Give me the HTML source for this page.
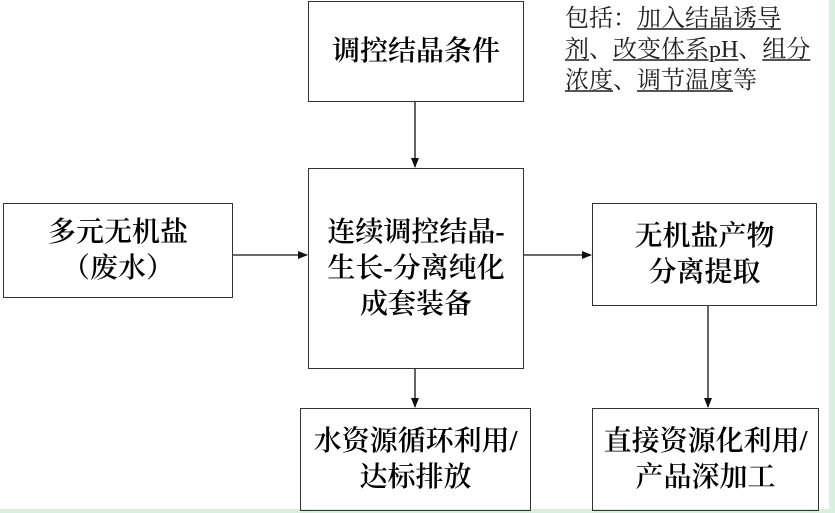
<!DOCTYPE html>
<html><head><meta charset="utf-8"><style>
body{margin:0;width:835px;height:513px;background:#d9f0dc;overflow:hidden;position:relative;font-family:"Liberation Serif","Noto Serif CJK SC",serif}
#c{position:absolute;left:0;top:0;width:829px;height:509px;background:#fff}
.b{position:absolute;border:1.5px solid #333;box-sizing:border-box;display:flex;align-items:center;justify-content:center;text-align:center;font-size:28px;line-height:36px;color:#000;font-weight:600}
.n{position:absolute;left:565px;top:4px;font-size:24px;line-height:31px;color:#222;width:265px}
.n u{text-decoration:underline;text-decoration-color:#555}
</style></head><body>
<div id="c"></div>
<div class="b" style="left:308px;top:1px;width:216px;height:101px">调控结晶条件</div>
<div class="b" style="left:308px;top:168px;width:216px;height:201px">连续调控结晶-<br>生长-分离纯化<br>成套装备</div>
<div class="b" style="left:3px;top:203px;width:230px;height:95px">多元无机盐<br>（废水）</div>
<div class="b" style="left:592px;top:203px;width:225px;height:103px">无机盐产物<br>分离提取</div>
<div class="b" style="left:300px;top:408px;width:231px;height:103px">水资源循环利用/<br>达标排放</div>
<div class="b" style="left:592px;top:408px;width:227px;height:103px">直接资源化利用/<br>产品深加工</div>
<div class="n">包括：<u>加入结晶诱导</u><br><u>剂</u>、<u>改变体系pH</u>、<u>组分</u><br><u>浓度</u>、<u>调节温度</u>等</div>
<svg width="835" height="513" style="position:absolute;left:0;top:0">
<defs><marker id="a" markerWidth="10" markerHeight="10" refX="9" refY="5" orient="auto" markerUnits="userSpaceOnUse"><path d="M0,1 L10,5 L0,9 Z" fill="#111"/></marker></defs>
<g stroke="#111" stroke-width="1.3">
<line x1="415" y1="102" x2="415" y2="167" marker-end="url(#a)"/>
<line x1="233" y1="255" x2="307" y2="255" marker-end="url(#a)"/>
<line x1="524" y1="255" x2="591" y2="255" marker-end="url(#a)"/>
<line x1="415" y1="369" x2="415" y2="407" marker-end="url(#a)"/>
<line x1="708" y1="306" x2="708" y2="407" marker-end="url(#a)"/>
</g></svg>
</body></html>
